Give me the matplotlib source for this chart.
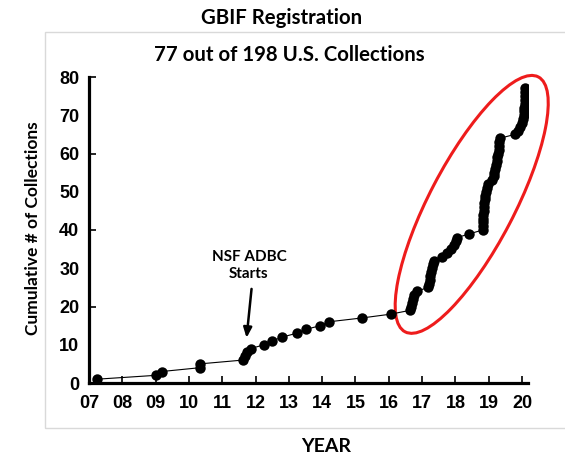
import matplotlib
matplotlib.use("Agg")
import matplotlib.pyplot as plt
from matplotlib.patches import Ellipse, Rectangle
from matplotlib.transforms import ScaledTranslation

# ---- data ----
years = [7.25, 9.00, 9.18, 10.33, 10.33, 11.63, 11.68, 11.75, 11.85, 12.26,
         12.50, 12.80, 13.23, 13.50, 13.95, 14.20, 15.19, 16.06,
         16.64, 16.66, 16.69, 16.72, 16.76, 16.84,
         17.19, 17.21, 17.23, 17.25, 17.27, 17.29, 17.32, 17.37,
         17.59, 17.74, 17.87, 17.97, 18.01, 18.05,
         18.42, 18.82,
         18.82, 18.83, 18.83, 18.84, 18.85, 18.86, 18.87, 18.89, 18.90, 18.92,
         18.94, 18.97, 19.10, 19.15, 19.17, 19.20, 19.22, 19.24, 19.26, 19.28,
         19.30, 19.31, 19.32, 19.34, 19.79, 19.88, 19.95, 20.00, 20.03, 20.05,
         20.06, 20.07, 20.08, 20.08, 20.09, 20.09, 20.10]
counts = [1, 2, 3, 4, 5, 6, 7, 8, 9, 10, 11, 12, 13, 14, 15, 16, 17, 18, 19, 20,
          21, 22, 23, 24, 25, 26, 27, 28, 29, 30, 31, 32, 33, 34, 35, 36, 37, 38, 39, 40,
          41, 42, 43, 44, 45, 46, 47, 48, 49, 50, 51, 52, 53, 54, 55, 56, 57, 58, 59, 60,
          61, 62, 63, 64, 65, 66, 67, 68, 69, 70, 71, 72, 73, 74, 75, 76, 77]
xtick_vals = [7, 8, 9, 10, 11, 12, 13, 14, 15, 16, 17, 18, 19, 20]
xtick_labels = ["07", "08", "09", "10", "11", "12", "13", "14", "15", "16", "17", "18", "19", "20"]
ytick_major = [0, 20, 40, 60, 80]
ytick_minor = [10, 30, 50, 70]

title = "GBIF Registration"
subtitle = "77 out of 198 U.S. Collections"
xlabel = "YEAR"
ylabel = "Cumulative # of Collections"
note = "NSF ADBC\nStarts"

TXT = ["Lato", "DejaVu Sans"]
NUM = ["Liberation Sans", "DejaVu Sans"]

fig = plt.figure(figsize=(5.65, 4.62), dpi=100)
ax = fig.add_axes([89/565, 1-383/462, (528-89)/565, (383-77)/462])

# light gray frame
fig.add_artist(Rectangle((45/565, 1-428/462), 1.2, (428-32)/462,
                         transform=fig.transFigure, fill=False,
                         edgecolor="#d9d9d9", linewidth=1.0))

ax.plot(years, counts, color="black", linewidth=0.8, marker="o",
        markersize=7.5, markeredgewidth=0, zorder=3)

ax.set_xlim(7, 20.18)
ax.set_ylim(0, 80)
for s in ["top", "right"]:
    ax.spines[s].set_visible(False)
for s in ["left", "bottom"]:
    ax.spines[s].set_linewidth(2.3)

ax.set_xticks(xtick_vals, labels=xtick_labels)
ax.set_yticks(ytick_major, labels=[str(v) for v in ytick_major])
ax.set_yticks(ytick_minor, labels=[str(v) for v in ytick_minor], minor=True)
ax.tick_params(axis="x", direction="in", length=5, width=1.2, pad=9)
ax.tick_params(axis="y", which="major", direction="in", length=5, width=1.2, pad=7)
ax.tick_params(axis="y", which="minor", length=0, pad=7)
for lab in ax.get_xticklabels() + ax.get_yticklabels() + ax.get_yticklabels(minor=True):
    lab.set_fontfamily(NUM)
    lab.set_fontweight("bold")
    lab.set_fontsize(13)

fig.text(282/565, 1-18/462, title, ha="center", va="center",
         fontsize=14.7, fontweight="bold", family=TXT)
fig.text(289/565, 1-55/462, subtitle, ha="center", va="center",
         fontsize=14.7, fontweight="bold", family=TXT)
fig.text(326/565, 1-447/462, xlabel, ha="center", va="center",
         fontsize=14, fontweight="bold", family=TXT)
fig.text(33/565, 1-228/462, ylabel, ha="center", va="center", rotation=90,
         fontsize=12.5, fontweight="bold", family=TXT)

ax.annotate("", xy=(11.73, 11.8), xytext=(11.88, 24.6),
            arrowprops=dict(arrowstyle="-|>,head_length=0.6,head_width=0.25",
                            color="black", lw=1.8, shrinkA=0, shrinkB=0))
ax.text(11.8, 30.8, note, ha="center", va="center", fontsize=11,
        fontweight="bold", family=TXT, linespacing=1.3)

# red ellipse highlighting recent growth
ell = Ellipse((0, 0), width=2.876, height=0.85, angle=62.4, fill=False,
              edgecolor="#ee1c1c", linewidth=2.2, clip_on=False,
              transform=fig.dpi_scale_trans + ScaledTranslation(18.49, 46.7, ax.transData))
ax.add_patch(ell)

fig.savefig("out.png", dpi=100)
